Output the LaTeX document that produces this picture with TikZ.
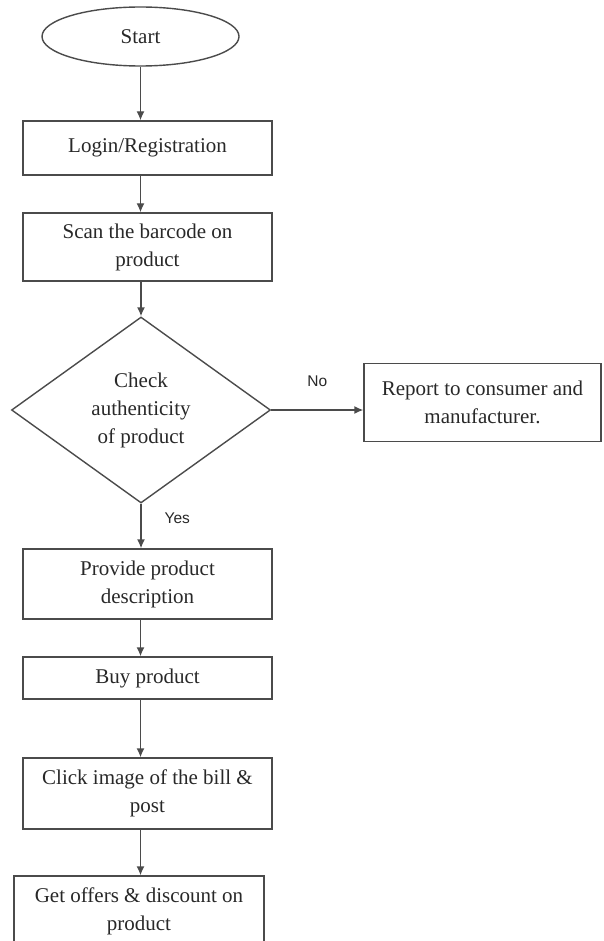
\documentclass[tikz,border=0pt]{standalone}
\usepackage{fontspec}
\setmainfont{Liberation Serif}
\newfontfamily\lblfont{Liberation Sans}
\usetikzlibrary{shapes.geometric, arrows.meta, positioning}
\definecolor{fcline}{RGB}{75,75,75}
\definecolor{fctext}{RGB}{40,40,40}

\begin{document}
\begin{tikzpicture}[
    x=1pt, y=-1pt,
    font=\fontsize{21}{28}\selectfont,
    term/.style={ellipse, draw=fcline, line width=1.4pt, minimum width=197pt, minimum height=59pt,
                 inner sep=0pt, text=fctext},
    proc/.style={rectangle, draw=fcline, line width=1.4pt, minimum width=249pt, minimum height=#1,
                 align=center, inner sep=2pt, text=fctext},
    decide/.style={diamond, draw=fcline, line width=1.4pt, minimum width=259pt, minimum height=186pt,
                   align=center, inner sep=0pt, text=fctext},
    arr/.style={-{Latex[length=9pt, width=8pt]}, line width=1.4pt, draw=fcline},
    lbl/.style={font=\lblfont\fontsize{15.5}{17}\selectfont, text=fctext, inner sep=0pt},
]
\useasboundingbox (0,0) rectangle (603,941);

% --- main column ---
\node[term]         (start)   at (140.5, 36.5) {Start};
\node[proc=54pt]    (login)   at (147.5, 148)  {Login/Registration};
\node[proc=68pt]    (scan)    at (147.5, 247)  {Scan the barcode on\\product};
\node[decide]       (check)   at (141, 410)    {Check\\authenticity\\of product};
\node[proc=70pt]    (provide) at (147.5, 584)  {Provide product\\description};
\node[proc=42pt]    (buy)     at (147.5, 678)  {Buy product};
\node[proc=71pt]    (click)   at (147.5, 793.5) {Click image of the bill \&\\post};
\node[proc=70pt, minimum width=250pt] (offers) at (139, 911) {Get offers \& discount on\\product};

% --- side branch ---
\node[proc=78pt, minimum width=237pt] (report) at (482.5, 402.5) {Report to consumer and\\manufacturer.};

% --- arrows ---
\draw[arr] (start) -- (start |- login.north);
\draw[arr] (login.south -| start) -- (start |- scan.north);
\draw[arr] (scan.south -| check) -- (check.north);
\draw[arr] (check.east) -- node[lbl, above=23pt]{No} (check.east -| report.west);
\draw[arr] (check.south) -- node[lbl, pos=0.33, right=23pt]{Yes} (check |- provide.north);
\draw[arr] (provide.south -| start) -- (start |- buy.north);
\draw[arr] (buy.south -| start) -- (start |- click.north);
\draw[arr] (click.south -| start) -- (start |- offers.north);
\end{tikzpicture}
\end{document}
